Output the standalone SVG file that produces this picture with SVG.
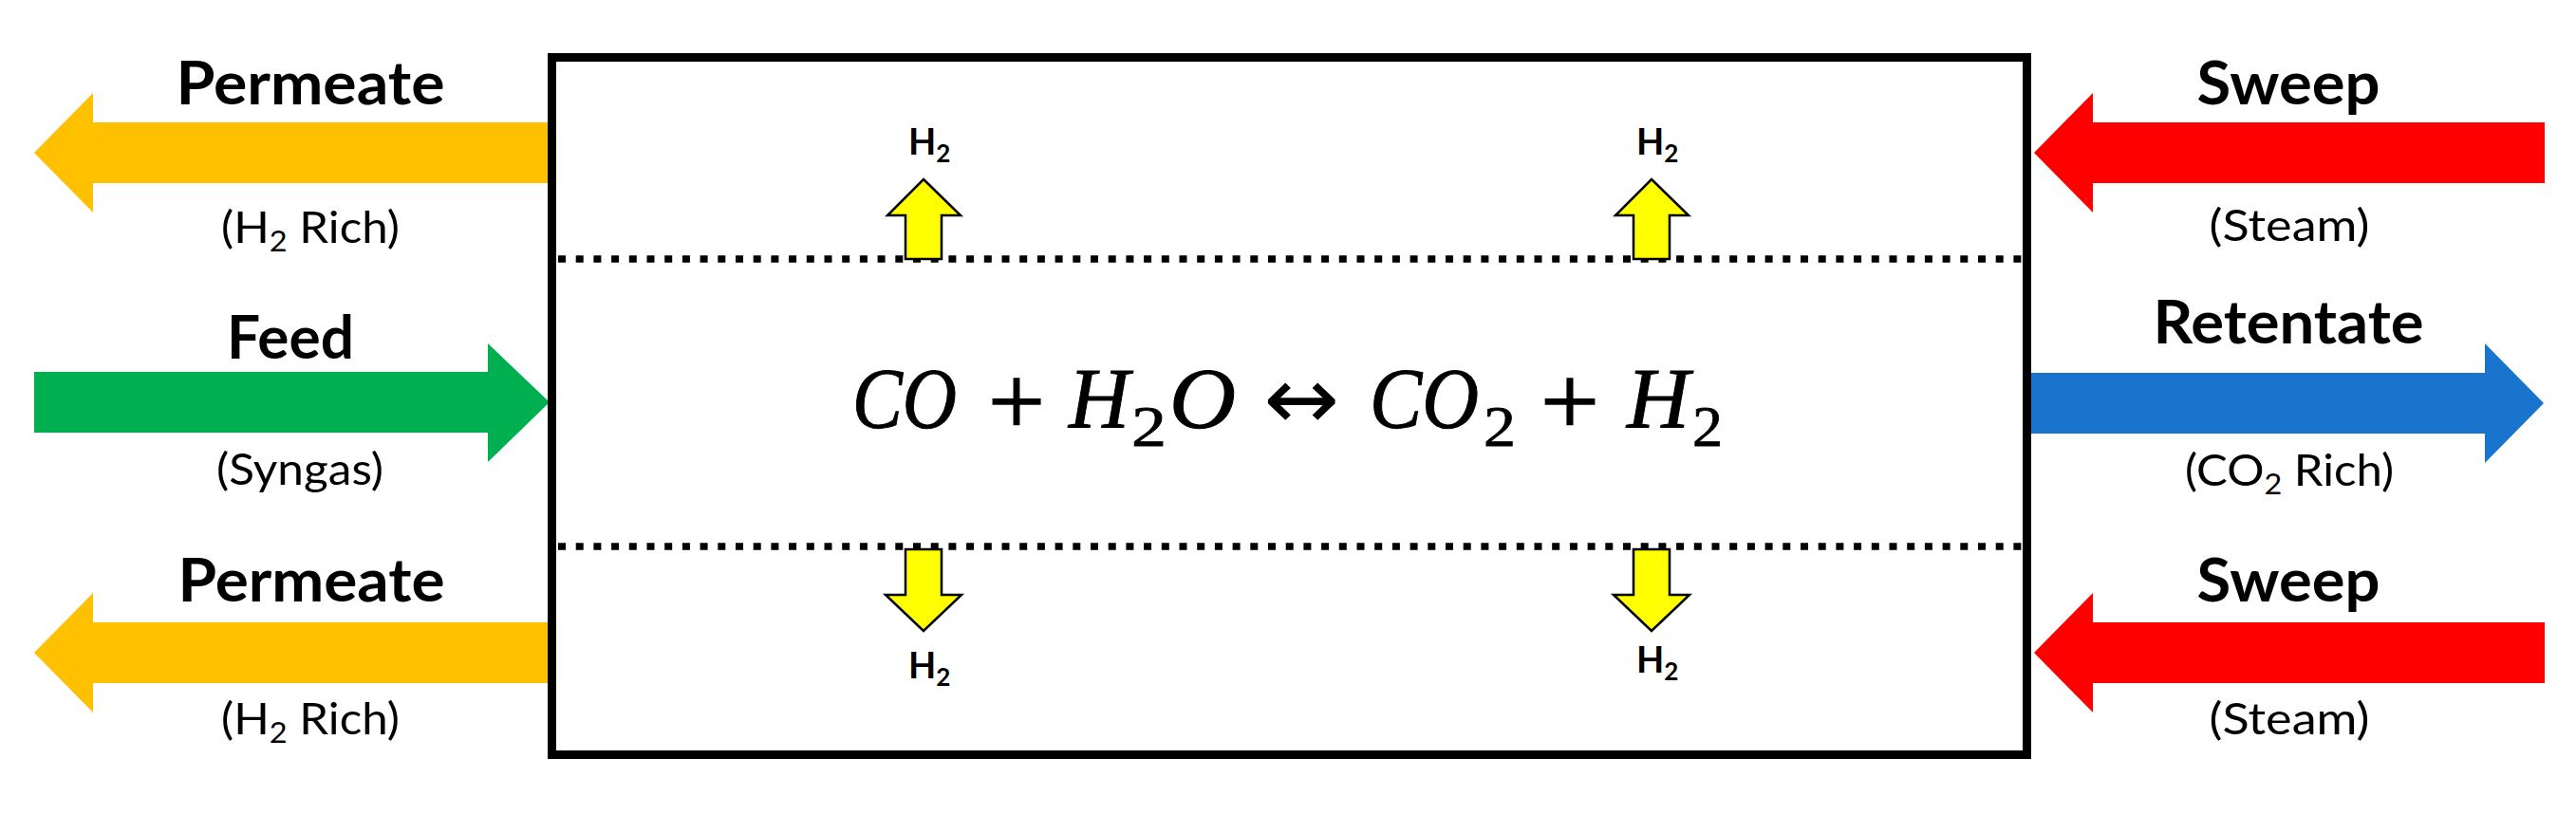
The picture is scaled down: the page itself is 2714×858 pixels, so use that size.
<svg xmlns="http://www.w3.org/2000/svg" width="2714" height="858" viewBox="0 0 2714 858">
<style>
.title{font-family:Lato,"Open Sans","Liberation Sans",sans-serif;font-weight:bold;font-size:63px;fill:#000;text-anchor:middle}
.sub{font-family:Lato,"Open Sans","Liberation Sans",sans-serif;font-size:47px;fill:#000;text-anchor:middle}
.h2{font-family:Lato,"Open Sans","Liberation Sans",sans-serif;font-weight:bold;font-size:38px;fill:#000}
.eq{font-family:"Liberation Serif","Times New Roman",serif;font-style:italic;font-size:90px;fill:#000;stroke:#000;stroke-width:1}
.equ{font-family:"Liberation Serif","DejaVu Serif",serif;font-size:104px;fill:#000;stroke:#000;stroke-width:1.5}
.arr{font-family:"DejaVu Sans","Liberation Sans",sans-serif;font-size:92px;fill:#000}
.eqs{font-family:"Liberation Serif","Times New Roman",serif;font-size:62px;fill:#000;stroke:#000;stroke-width:0.8}
.small{fill:#FFFF00;stroke:#000;stroke-width:2.5;stroke-linejoin:miter}
.dots{stroke:#000;stroke-width:7.5;stroke-dasharray:8 10.7;fill:none}
</style>
<rect width="2714" height="858" fill="#fff"/>
<g id="connectors">
  <path id="permeate-top-arrow" d="M36,161 L98,98 L98,129 L579,129 L579,193 L98,193 L98,224 Z" fill="#FFC000"/>
  <path id="feed-arrow" d="M36,392 L514,392 L514,362 L579,424 L514,487 L514,456 L36,456 Z" fill="#00B050"/>
  <path id="permeate-bottom-arrow" d="M36,688 L98,625 L98,656 L579,656 L579,720 L98,720 L98,751 Z" fill="#FFC000"/>
  <path id="sweep-top-arrow" d="M2143,161 L2205,98 L2205,129 L2681,129 L2681,193 L2205,193 L2205,224 Z" fill="#FF0000"/>
  <path id="retentate-arrow" d="M2138,393 L2618,393 L2618,362 L2680,425 L2618,488 L2618,457 L2138,457 Z" fill="#1874CD"/>
  <path id="sweep-bottom-arrow" d="M2143,688 L2205,625 L2205,656 L2681,656 L2681,720 L2205,720 L2205,751 Z" fill="#FF0000"/>
</g>
<g id="reactor">
  <rect x="581.5" y="60.5" width="1554" height="735" fill="none" stroke="#000" stroke-width="9"/>
  <line class="dots" x1="588" y1="273" x2="2131" y2="273"/>
  <line class="dots" x1="588" y1="576" x2="2131" y2="576"/>
</g>
<g id="h2-up-left">
  <path class="small" d="M973,189 L1012,227 L992,227 L992,273 L954,273 L954,227 L935,227 Z"/>
  <text class="h2" x="957" y="163">H<tspan font-size="26" dy="8">2</tspan></text>
</g>
<g id="h2-up-right">
  <path class="small" d="M1740,189 L1779,227 L1759,227 L1759,273 L1721,273 L1721,227 L1702,227 Z"/>
  <text class="h2" x="1724" y="163">H<tspan font-size="26" dy="8">2</tspan></text>
</g>
<g id="h2-down-left">
  <path class="small" d="M954,579 L992,579 L992,627 L1013,627 L973,665 L933,627 L954,627 Z"/>
  <text class="h2" x="957" y="715">H<tspan font-size="26" dy="8">2</tspan></text>
</g>
<g id="h2-down-right">
  <path class="small" d="M1721,579 L1759,579 L1759,627 L1780,627 L1740,665 L1700,627 L1721,627 Z"/>
  <text class="h2" x="1724" y="709">H<tspan font-size="26" dy="8">2</tspan></text>
</g>
<g id="equation">
  <text class="eq" x="898" y="451" textLength="110" lengthAdjust="spacingAndGlyphs">CO</text>
  <text class="equ" x="1041" y="458" textLength="60" lengthAdjust="spacingAndGlyphs">+</text>
  <text class="eq" x="1126" y="451" textLength="64" lengthAdjust="spacingAndGlyphs">H</text>
  <text class="eqs" x="1192" y="470" textLength="37" lengthAdjust="spacingAndGlyphs">2</text>
  <text class="eq" x="1232" y="451" textLength="70" lengthAdjust="spacingAndGlyphs">O</text>
  <text class="arr" x="1331" y="452" textLength="80" lengthAdjust="spacingAndGlyphs">↔</text>
  <text class="eq" x="1443" y="451" textLength="115" lengthAdjust="spacingAndGlyphs">CO</text>
  <text class="eqs" x="1563" y="470" textLength="34" lengthAdjust="spacingAndGlyphs">2</text>
  <text class="equ" x="1623" y="458" textLength="62" lengthAdjust="spacingAndGlyphs">+</text>
  <text class="eq" x="1714" y="451" textLength="66" lengthAdjust="spacingAndGlyphs">H</text>
  <text class="eqs" x="1783" y="470" textLength="32" lengthAdjust="spacingAndGlyphs">2</text>
</g>
<g id="permeate-top">
  <text class="title" x="327" y="110" textLength="283" lengthAdjust="spacingAndGlyphs">Permeate</text>
  <text class="sub" x="327" y="256" textLength="188" lengthAdjust="spacingAndGlyphs">(H<tspan font-size="31" dy="9">2</tspan><tspan dy="-9"> Rich)</tspan></text>
</g>
<g id="feed">
  <text class="title" x="306" y="378" textLength="134" lengthAdjust="spacingAndGlyphs">Feed</text>
  <text class="sub" x="316" y="511" textLength="176" lengthAdjust="spacingAndGlyphs">(Syngas)</text>
</g>
<g id="permeate-bottom">
  <text class="title" x="328" y="634" textLength="281" lengthAdjust="spacingAndGlyphs">Permeate</text>
  <text class="sub" x="327" y="774" textLength="188" lengthAdjust="spacingAndGlyphs">(H<tspan font-size="31" dy="9">2</tspan><tspan dy="-9"> Rich)</tspan></text>
</g>
<g id="sweep-top">
  <text class="title" x="2411" y="110" textLength="193" lengthAdjust="spacingAndGlyphs">Sweep</text>
  <text class="sub" x="2412" y="254" textLength="169" lengthAdjust="spacingAndGlyphs">(Steam)</text>
</g>
<g id="retentate">
  <text class="title" x="2411" y="362" textLength="285" lengthAdjust="spacingAndGlyphs">Retentate</text>
  <text class="sub" x="2412" y="512" textLength="220" lengthAdjust="spacingAndGlyphs">(CO<tspan font-size="31" dy="9">2</tspan><tspan dy="-9"> Rich)</tspan></text>
</g>
<g id="sweep-bottom">
  <text class="title" x="2411" y="634" textLength="193" lengthAdjust="spacingAndGlyphs">Sweep</text>
  <text class="sub" x="2412" y="774" textLength="169" lengthAdjust="spacingAndGlyphs">(Steam)</text>
</g>
</svg>
